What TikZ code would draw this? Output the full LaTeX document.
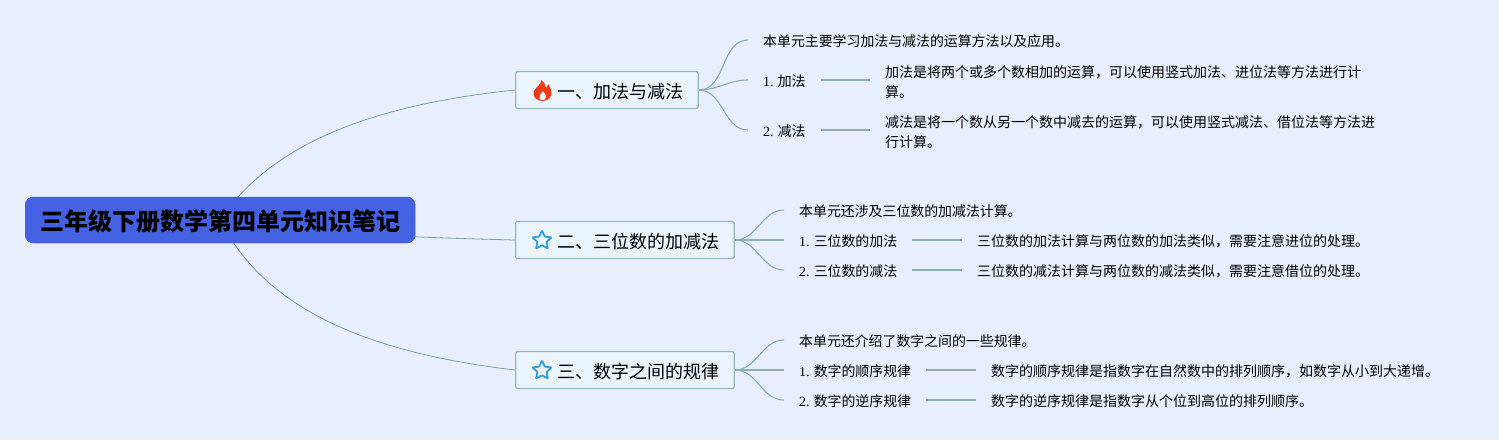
\documentclass[tikz,border=0pt]{standalone}
\usepackage{fontspec}
\setmainfont{Noto Sans CJK SC}
\newfontfamily\numfont{Liberation Serif}
\usetikzlibrary{shapes.geometric,backgrounds}
\definecolor{pagebg}{HTML}{E8EEFC}
\definecolor{linkc}{HTML}{76A3A6}
\definecolor{sublinkc}{HTML}{88B0B2}
\definecolor{topicline}{HTML}{93B9BC}
\definecolor{topicfill}{HTML}{EBF4FA}
\definecolor{rootfill}{HTML}{4361E0}
\definecolor{starc}{HTML}{2F9FE0}
\definecolor{flamec}{HTML}{F03A17}
\tikzset{
  rootbox/.style={anchor=west,fill=rootfill,draw=rootfill,rounded corners=8pt,minimum width=390pt,minimum height=46pt,inner sep=0pt,text height=20pt,text depth=0pt,font=\fontsize{24}{28}\selectfont\bfseries,text=black},
  topicbox/.style={anchor=west,fill=topicfill,draw=topicline,line width=1.3pt,rounded corners=2pt,minimum height=37pt,inner xsep=14.5pt,inner ysep=0pt,text height=16pt,text depth=0pt,font=\fontsize{18}{22}\selectfont},
  leaf/.style={anchor=west,inner xsep=15pt,inner ysep=0pt,align=left,text height=11pt,text depth=3pt,font=\fontsize{13.9}{20}\selectfont},
  leafnote/.style={leaf,font=\fontsize{14}{20}\selectfont},
  link/.style={draw=linkc,line width=0.8pt},
  sublink/.style={draw=sublinkc,line width=1.1pt},
  staricon/.style={star,star points=5,star point ratio=2.1,draw=starc,line width=1.8pt,fill=topicfill,minimum size=20pt,inner sep=0pt,rounded corners=0.8pt},
}
\begin{document}
\begin{tikzpicture}[x=1pt,y=-1pt]
  \useasboundingbox (0,0) rectangle (1499,440);
  \node[rootbox] (root) at (25,220) {\hfill 三年级下册数学第四单元知识笔记\hfill\null};

  \node[topicbox] (t1) at (515,90) {\hspace*{27.5pt}一、加法与减法};
  \node[leaf] (a0) at (748,42) {本单元主要学习加法与减法的运算方法以及应用。};
  \node[leaf] (a1) at (748,82) {{\numfont 1.} 加法};
  \node[leaf] (a2) at (748,132) {{\numfont 2.} 减法};
  \node[leafnote,text height=,text depth=] (a1d) at (870,82) {加法是将两个或多个数相加的运算，可以使用竖式加法、进位法等方法进行计\\算。};
  \node[leafnote,text height=,text depth=] (a2d) at (870,132) {减法是将一个数从另一个数中减去的运算，可以使用竖式减法、借位法等方法进\\行计算。};

  \node[topicbox] (t2) at (515,240) {\hspace*{27.5pt}二、三位数的加减法};
  \node[leaf] (b0) at (784,212) {本单元还涉及三位数的加减法计算。};
  \node[leaf] (b1) at (784,242) {{\numfont 1.} 三位数的加法};
  \node[leaf] (b2) at (784,272) {{\numfont 2.} 三位数的减法};
  \node[leafnote] (b1d) at (962,242) {三位数的加法计算与两位数的加法类似，需要注意进位的处理。};
  \node[leafnote] (b2d) at (962,272) {三位数的减法计算与两位数的减法类似，需要注意借位的处理。};

  \node[topicbox] (t3) at (515,370) {\hspace*{27.5pt}三、数字之间的规律};
  \node[leaf] (c0) at (784,342) {本单元还介绍了数字之间的一些规律。};
  \node[leaf] (c1) at (784,372) {{\numfont 1.} 数字的顺序规律};
  \node[leaf] (c2) at (784,402) {{\numfont 2.} 数字的逆序规律};
  \node[leafnote] (c1d) at (976,372) {数字的顺序规律是指数字在自然数中的排列顺序，如数字从小到大递增。};
  \node[leafnote] (c2d) at (976,402) {数字的逆序规律是指数字从个位到高位的排列顺序。};

  \node[staricon] (s2) at (542,240.5) {};
  \node[staricon] (s3) at (542,370.5) {};
  % flame icon
  \fill[flamec] (541,80) .. controls (542,85) and (535,87) .. (533.5,92) .. controls (532.5,97) and (537,101) .. (542.5,101) .. controls (548,101) and (552,97) .. (551.5,92) .. controls (551,88) and (549,86) .. (548,84) .. controls (547.5,86) and (547,87) .. (546,88) .. controls (546,85) and (544,82) .. (541,80) -- cycle;
  \fill[topicfill] (542.5,100) .. controls (539.5,100) and (538.5,97) .. (540,95) .. controls (541,94) and (542,93) .. (542.5,91) .. controls (544.5,93) and (546.5,95) .. (546,97) .. controls (545.5,99) and (544.5,100) .. (542.5,100) -- cycle;

  \begin{scope}[on background layer]
    \fill[pagebg] (0,0) rectangle (1499,440);
    \draw[link] (root.center) .. controls (270,145) and (370,105) .. (t1.west);
    \draw[link] (root.center) .. controls (340,236) and (440,238) .. (t2.west);
    \draw[link] (root.center) .. controls (265,310) and (370,353) .. (t3.west);
    \draw[sublink] (t1.east) to[out=0,in=180] ([yshift=2pt]a0.west);
    \draw[sublink] (t1.east) to[out=0,in=180] ([yshift=2pt]a1.west);
    \draw[sublink] (t1.east) to[out=0,in=180] ([yshift=2pt]a2.west);
    \draw[sublink] ([yshift=2pt]a1.east) -- ([yshift=2pt]a1d.west);
    \draw[sublink] ([yshift=2pt]a2.east) -- ([yshift=2pt]a2d.west);
    \draw[sublink] (t2.east) to[out=0,in=180] ([yshift=2pt]b0.west);
    \draw[sublink] (t2.east) to[out=0,in=180] ([yshift=2pt]b1.west);
    \draw[sublink] (t2.east) to[out=0,in=180] ([yshift=2pt]b2.west);
    \draw[sublink] ([yshift=2pt]b1.east) -- ([yshift=2pt]b1d.west);
    \draw[sublink] ([yshift=2pt]b2.east) -- ([yshift=2pt]b2d.west);
    \draw[sublink] (t3.east) to[out=0,in=180] ([yshift=2pt]c0.west);
    \draw[sublink] (t3.east) to[out=0,in=180] ([yshift=2pt]c1.west);
    \draw[sublink] (t3.east) to[out=0,in=180] ([yshift=2pt]c2.west);
    \draw[sublink] ([yshift=2pt]c1.east) -- ([yshift=2pt]c1d.west);
    \draw[sublink] ([yshift=2pt]c2.east) -- ([yshift=2pt]c2d.west);
  \end{scope}
\end{tikzpicture}
\end{document}
